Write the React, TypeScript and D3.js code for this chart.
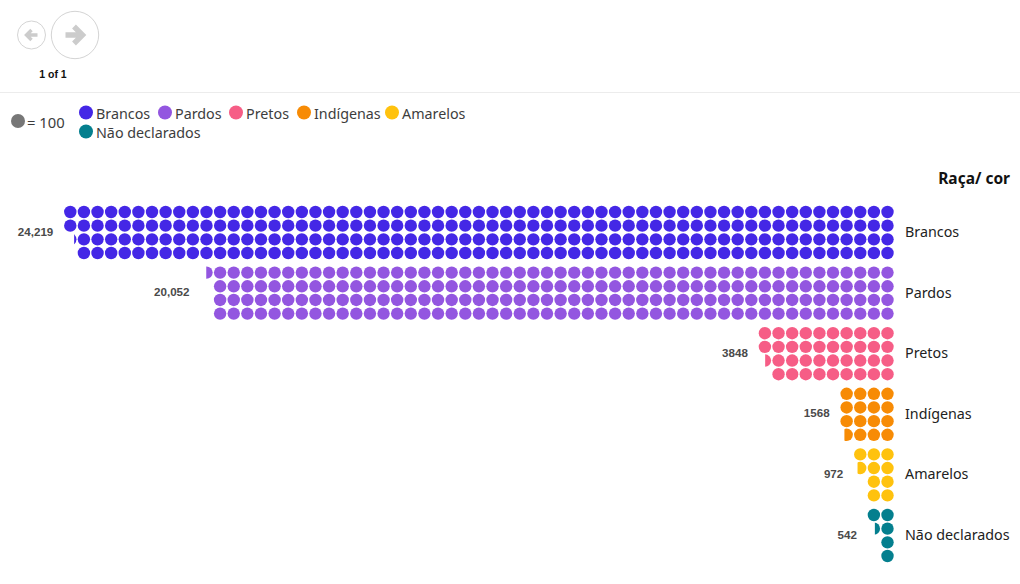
import React, { useEffect, useRef } from 'react';
import * as d3 from 'd3';

const categories = ['Brancos', 'Pardos', 'Pretos', 'Indígenas', 'Amarelos', 'Não declarados'];
const values = [24219, 20052, 3848, 1568, 972, 542];
const colors = ['#4427e6', '#9356e0', '#f65d86', '#f78b05', '#ffc20e', '#047f8e'];
const valueLabels = ['24,219', '20,052', '3848', '1568', '972', '542'];

const unit = 100;
const rowsPerColumn = 4;
const columnCount = 61;
const labelFont = '"Noto Sans", sans-serif';
const numberFont = '"Liberation Sans", Arial, sans-serif';

export default function App() {
  const ref = useRef<SVGSVGElement>(null);

  useEffect(() => {
    const svg = d3.select(ref.current);
    svg.selectAll('*').remove();

    // top navigation
    const nav = svg.append('g');
    nav.append('circle').attr('cx', 31.5).attr('cy', 35).attr('r', 14).attr('fill', 'none').attr('stroke', '#d4d4d4');
    nav.append('circle').attr('cx', 75).attr('cy', 35).attr('r', 23.7).attr('fill', 'none').attr('stroke', '#d4d4d4');
    nav.append('path').attr('d', 'M37.5,35H27M31.5,30L26.5,35L31.5,40')
      .attr('fill', 'none').attr('stroke', '#cccccc').attr('stroke-width', 3.4);
    nav.append('path').attr('d', 'M65.5,35H81M74,26.5L82.5,35L74,43.5')
      .attr('fill', 'none').attr('stroke', '#cccccc').attr('stroke-width', 5.4);
    nav.append('text').attr('x', 53).attr('y', 78).attr('text-anchor', 'middle')
      .attr('font-family', numberFont).attr('font-size', 10.5).attr('font-weight', 700).attr('fill', '#111').text('1 of 1');
    svg.append('line').attr('x1', 0).attr('x2', 1020).attr('y1', 92.5).attr('y2', 92.5).attr('stroke', '#ececec');

    // legend
    const legend = svg.append('g').attr('font-family', labelFont).attr('font-size', 14.3).attr('fill', '#3d3d3d');
    legend.append('circle').attr('cx', 18).attr('cy', 121).attr('r', 7).attr('fill', '#777777');
    legend.append('text').attr('x', 27).attr('y', 128).attr('font-size', 14.8).text('= 100');
    const legendX = [86, 165, 236, 304, 392, 86];
    const legendY = [112.5, 112.5, 112.5, 112.5, 112.5, 131.5];
    categories.forEach((c, i) => {
      legend.append('circle').attr('cx', legendX[i]).attr('cy', legendY[i]).attr('r', 7).attr('fill', colors[i]);
      legend.append('text').attr('x', legendX[i] + 10).attr('y', legendY[i] + 6.5).text(c);
    });

    // waffle rows, filled from the right hand column
    const x = d3.scaleLinear().domain([0, columnCount - 1]).range([887.5, 70.3]);
    const yGroup = d3.scaleLinear().domain([0, categories.length - 1]).range([212, 515]);
    const yRow = d3.scaleLinear().domain([0, rowsPerColumn - 1]).range([0, 41]);
    const r = 6.2;
    const defs = svg.append('defs');

    categories.forEach((c, i) => {
      const count = values[i] / unit;
      const g = svg.append('g').attr('fill', colors[i]);
      const full = Math.floor(count);
      const cells = d3.range(Math.ceil(count)).map(k => ({ k, frac: k < full ? 1 : count - full }));
      let lastX = 0;
      cells.forEach(({ k, frac }) => {
        const col = Math.floor(k / rowsPerColumn);
        const row = k % rowsPerColumn;
        const cx = x(col);
        const cy = yGroup(i) + yRow(row);
        lastX = cx;
        const dot = g.append('circle').attr('cx', cx).attr('cy', cy).attr('r', r);
        if (frac < 1) {
          // partial dot keeps its right hand part
          const id = `partial-${i}`;
          defs.append('clipPath').attr('id', id).append('rect')
            .attr('x', cx + r - 2 * r * frac).attr('y', cy - r - 1)
            .attr('width', 2 * r * frac + 1).attr('height', 2 * r + 2);
          dot.attr('clip-path', `url(#${id})`);
        }
      });
      const mid = yGroup(i) + yRow(1.5);
      svg.append('text').attr('x', lastX - 17).attr('y', mid + 3)
        .attr('text-anchor', 'end').attr('font-family', numberFont).attr('font-size', 11.6)
        .attr('font-weight', 700).attr('fill', '#4a4a4a').text(valueLabels[i]);
      svg.append('text').attr('x', 905).attr('y', mid + 4.5)
        .attr('font-family', labelFont).attr('font-size', 14.3).attr('fill', '#222').text(c);
    });

    svg.append('text').attr('x', 1010).attr('y', 184).attr('text-anchor', 'end')
      .attr('font-family', labelFont).attr('font-size', 15.5).attr('font-weight', 700).attr('fill', '#111').text('Raça/ cor');
  }, []);

  return <svg ref={ref} width={1020} height={584} style={{ position: 'absolute', left: 0, top: 0, display: 'block' }} />;
}
